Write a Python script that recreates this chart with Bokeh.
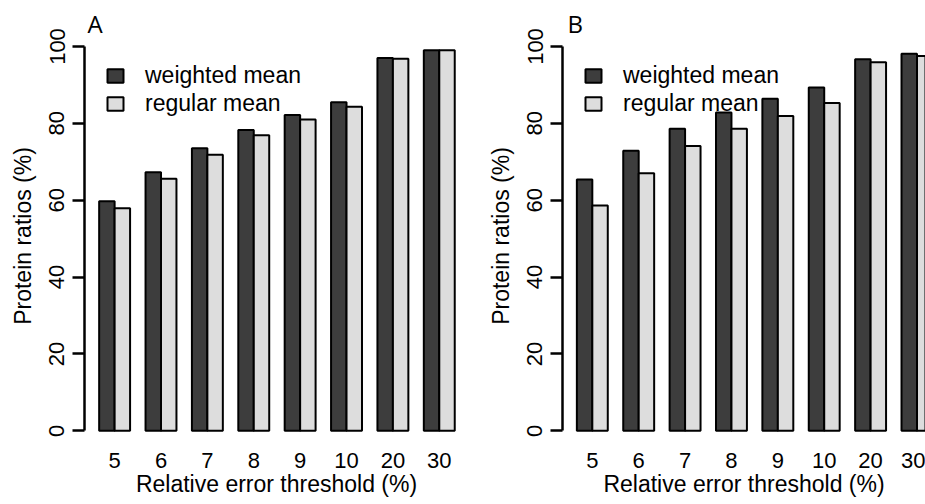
from bokeh.plotting import figure
from bokeh.layouts import row
from bokeh.models import (ColumnDataSource, FixedTicker, Range1d, Legend, LegendItem, Title)
from bokeh.embed import file_html
from bokeh.resources import INLINE

# ---- data ----
thresholds = ["5", "6", "7", "8", "9", "10", "20", "30"]
weighted_A = [59.7, 67.3, 73.5, 78.3, 82.2, 85.5, 97.0, 99.0]
regular_A = [57.9, 65.6, 71.8, 76.9, 81.0, 84.3, 96.8, 99.0]
weighted_B = [65.4, 72.9, 78.6, 82.8, 86.4, 89.3, 96.7, 98.1]
regular_B = [58.6, 67.0, 74.1, 78.6, 81.9, 85.3, 95.9, 97.5]
series_names = ["weighted mean", "regular mean"]
y_ticks = [0, 20, 40, 60, 80, 100]

DARK = "#3d3d3d"
LIGHT = "#dddddd"
FONT = "Liberation Sans"

H = 504
TOP = 38
BOTTOM = 71
PX_PER_Y = 3.843      # pixels per percent
Y0_PX = 430.3         # screen row of y = 0
PX_PER_X = 15.46      # pixels per bar unit


def make_panel(letter, letter_offset, weighted, regular, width, border_left, border_right, x_start):
    n = len(thresholds)
    # R barplot beside=TRUE layout: each bar 1 unit, 1 unit gap between groups
    xw = [1.5 + 3 * i for i in range(n)]
    xr = [2.5 + 3 * i for i in range(n)]
    centers = [2 + 3 * i for i in range(n)]

    frame_w = width - border_left - border_right
    x_end = x_start + frame_w / PX_PER_X
    y_top = (Y0_PX - TOP) / PX_PER_Y
    y_bot = (Y0_PX - (H - BOTTOM)) / PX_PER_Y

    title = Title(text=letter, align="left", offset=letter_offset, standoff=-3,
                  text_font="Open Sans", text_font_size="24px",
                  text_font_style="normal", text_color="black")

    p = figure(width=width, height=H, output_backend="svg", toolbar_location=None,
               title=title,
               x_range=Range1d(x_start, x_end), y_range=Range1d(y_bot, y_top),
               min_border_left=border_left, min_border_right=border_right,
               min_border_top=TOP, min_border_bottom=BOTTOM)
    p.outline_line_color = None
    p.xgrid.visible = False
    p.ygrid.visible = False
    p.background_fill_color = "white"
    p.border_fill_color = "white"

    src_w = ColumnDataSource(dict(x=xw, top=weighted))
    src_r = ColumnDataSource(dict(x=xr, top=regular))
    rw = p.vbar(x="x", top="top", bottom=0, width=1, source=src_w,
                fill_color=DARK, line_color="black", line_width=2)
    rr = p.vbar(x="x", top="top", bottom=0, width=1, source=src_r,
                fill_color=LIGHT, line_color="black", line_width=2)

    # y axis
    ya = p.yaxis[0]
    ya.ticker = FixedTicker(ticks=y_ticks)
    ya.bounds = (0, 100)
    ya.axis_line_width = 2.5
    ya.major_tick_line_width = 2.5
    ya.major_tick_out = 12
    ya.major_tick_in = 0
    ya.minor_tick_line_color = None
    ya.major_label_orientation = "vertical"
    ya.major_label_text_font = FONT
    ya.major_label_text_font_size = "22px"
    ya.major_label_text_color = "black"
    ya.major_label_standoff = 8
    ya.axis_label = "Protein ratios (%)"
    ya.axis_label_text_font = FONT
    ya.axis_label_text_font_size = "23px"
    ya.axis_label_text_font_style = "normal"
    ya.axis_label_text_color = "black"
    ya.axis_label_standoff = 11

    # x axis (labels only)
    xa = p.xaxis[0]
    xa.ticker = FixedTicker(ticks=centers)
    xa.major_label_overrides = {c: t for c, t in zip(centers, thresholds)}
    xa.axis_line_color = None
    xa.major_tick_line_color = None
    xa.minor_tick_line_color = None
    xa.major_tick_out = 0
    xa.major_tick_in = 0
    xa.major_label_standoff = 19
    xa.major_label_text_font = FONT
    xa.major_label_text_font_size = "22px"
    xa.major_label_text_color = "black"
    xa.axis_label = "Relative error threshold (%)"
    xa.axis_label_text_font = FONT
    xa.axis_label_text_font_size = "23px"
    xa.axis_label_text_font_style = "normal"
    xa.axis_label_text_color = "black"
    xa.axis_label_standoff = 0

    legend = Legend(items=[LegendItem(label=series_names[0], renderers=[rw]),
                           LegendItem(label=series_names[1], renderers=[rr])],
                    location=(21, 316), padding=0, margin=0, spacing=1,
                    glyph_width=20, glyph_height=17, label_height=17,
                    label_standoff=20, border_line_color=None,
                    background_fill_alpha=0,
                    label_text_font=FONT, label_text_font_size="23px",
                    label_text_color="black")
    p.add_layout(legend, "center")
    return p


pA = make_panel("A", 3, weighted_A, regular_A, 476, 84, 8, (84 - 83.2) / PX_PER_X)
pB = make_panel("B", 5, weighted_B, regular_B, 449, 86, 0, (562 - 560.9) / PX_PER_X)

layout = row(pA, pB)
open("out.html", "w").write(file_html(layout, INLINE))
